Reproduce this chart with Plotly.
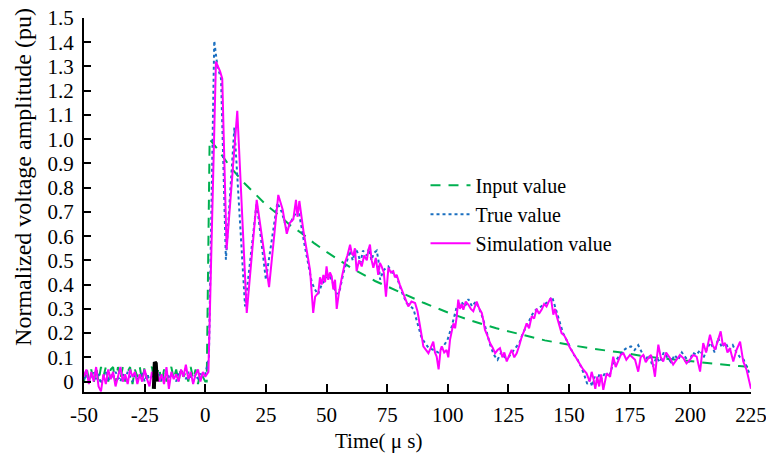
import plotly.graph_objects as go

# ---------------- data ----------------
# Input value (green dashed)
input_t = [-50, -49, -48, -47, -46, -45, -44, -43, -42, -41, -40, -39, -38, -37, -36, -35,
           -34, -33, -32, -31, -30, -29, -28, -27, -26, -25, -24, -23, -22, -21, -20, -19,
           -18, -17, -16, -15, -14, -13, -12, -11, -10, -9, -8, -7, -6, -5, -4, -3, -2, -1, 0,
           0.6, 1.8, 5, 10, 15, 20, 25, 30, 35, 40, 45, 50, 60, 70, 80, 90, 100, 110, 120,
           130, 140, 150, 160, 170, 180, 190, 200, 210, 220, 225]
input_v = [0.00, 0.06, 0.01, 0.05, -0.01, 0.06, 0.00, 0.06, 0.02, 0.06, 0.00, 0.05, 0.06, -0.01,
           0.06, 0.01, 0.06, 0.00, 0.04, 0.06, -0.01, 0.05, 0.02, 0.06, 0.00, 0.06, 0.01, 0.05,
           0.06, 0.00, 0.03, 0.06, -0.01, 0.05, 0.00, 0.04, 0.06, 0.01, 0.05, 0.00, 0.06, 0.02,
           0.04, 0.00, 0.06, 0.01, 0.05, -0.01, 0.04, 0.02, 0.00,
           0.00, 1.00, 0.96, 0.89, 0.83, 0.78, 0.73, 0.69, 0.645, 0.61, 0.57, 0.535, 0.47, 0.415,
           0.37, 0.325, 0.285, 0.25, 0.22, 0.195, 0.17, 0.152, 0.135, 0.122, 0.106, 0.094,
           0.083, 0.073, 0.064, 0.060]

# True value (blue dotted)
true_t = [-50, -49, -48, -47, -46, -45, -44, -43, -42, -41, -40, -39, -38, -37, -36, -35,
          -34, -33, -32, -31, -30, -29, -28, -27, -26, -25, -24, -23, -22, -21, -20, -19,
          -18, -17, -16, -15, -14, -13, -12, -11, -10, -9, -8, -7, -6, -5, -4, -3, -2, -1, 0,
          1.5, 3.7, 5, 6.5, 8.5, 12, 16.4, 21.2, 25, 29.7, 31.5, 33.6, 35, 36.3, 38.4, 41,
          43.9, 45.2, 46.5, 48, 49.5, 51, 52.5, 54, 55.5, 57, 58.5, 59.7, 60.8, 62, 63.1, 64,
          65, 66.6, 67.5, 68.5, 69.5, 70.7, 71.4, 72.1, 73.5, 75.5, 77, 78.9, 81, 83, 85.8,
          87.8, 89.2, 90.6, 92, 94, 96, 98.1, 99.8, 101.6, 103.7, 105.5, 107, 108.5, 110,
          111.5, 113, 114.5, 116, 117.5, 119, 120.5, 122, 123.5, 125, 126.5, 128, 129.5, 131,
          132.5, 134, 135.5, 137, 138.5, 140, 141.5, 143, 144.5, 146, 147.5, 149, 150.5, 152,
          153.5, 155, 156.5, 157.5, 158.5, 159.5, 160.5, 161.5, 162.5, 163.5, 165, 166.5, 168,
          169.5, 171, 172.5, 174, 175.5, 177, 178.5, 180, 181.5, 183, 184.5, 186, 187.5, 189,
          190.5, 192, 193.5, 195, 196.5, 198, 199.5, 201, 202.5, 204, 205.5, 207, 208.5, 210,
          211.5, 213, 214.5, 216, 217.5, 219, 220.5, 222, 223.5, 224.5]
true_v = [0.01, 0.03, 0.00, 0.02, 0.04, 0.01, 0.03, -0.01, 0.02, 0.04, 0.00, 0.03, 0.01, 0.04,
          0.02, 0.00, 0.03, 0.01, 0.04, 0.02, 0.00, 0.03, 0.01, 0.02, 0.04, 0.00, 0.03, 0.01,
          0.02, 0.04, 0.01, 0.03, 0.00, 0.02, 0.04, 0.01, 0.03, 0.02, 0.00, 0.04, 0.02, 0.03,
          0.01, 0.04, 0.02, 0.00, 0.03, 0.01, 0.04, 0.02, 0.03,
          0.10, 1.406, 1.30, 1.25, 0.503, 1.048, 0.31, 0.738, 0.42, 0.738, 0.70, 0.627, 0.65,
          0.68, 0.71, 0.56, 0.41, 0.38, 0.36, 0.40, 0.42, 0.44, 0.41, 0.36, 0.38, 0.45, 0.50,
          0.54, 0.50, 0.55, 0.524, 0.49, 0.54, 0.52, 0.55, 0.50, 0.53, 0.54, 0.50, 0.42, 0.46,
          0.475, 0.45, 0.434, 0.37, 0.324, 0.30, 0.227, 0.18, 0.159, 0.14, 0.131, 0.12, 0.145,
          0.17, 0.227, 0.31, 0.33, 0.31, 0.34, 0.31, 0.33, 0.30, 0.26, 0.20, 0.15, 0.11, 0.09,
          0.12, 0.10, 0.10, 0.12, 0.14, 0.16, 0.20, 0.23, 0.26, 0.29, 0.30, 0.31, 0.32, 0.33,
          0.35, 0.30, 0.24, 0.20, 0.17, 0.14, 0.11, 0.09, 0.06, 0.02, -0.01, 0.01, -0.02, 0.02,
          0.00, 0.03, 0.01, 0.04, 0.02, 0.07, 0.09, 0.11, 0.13, 0.14, 0.145, 0.13, 0.15, 0.12,
          0.09, 0.11, 0.06, 0.10, 0.08, 0.12, 0.10, 0.08, 0.11, 0.09, 0.12, 0.10, 0.08, 0.12,
          0.11, 0.13, 0.10, 0.14, 0.16, 0.12, 0.18, 0.14, 0.16, 0.13, 0.15, 0.12, 0.10, 0.09,
          0.05, 0.03]

# Simulation value (magenta solid)
sim_t = [-50, -49, -48, -47, -46, -45, -44, -43, -42, -41, -40, -39, -38, -37, -36, -35,
         -34, -33, -32, -31, -30, -29, -28, -27, -26, -25, -24, -23, -22, -21, -20, -19,
         -18, -17, -16, -15, -14, -13, -12, -11, -10, -9, -8, -7, -6, -5, -4, -3, -2, -1, 0,
         0.5, 1.3, 4.4, 6.1, 7, 8.8, 13.2, 17.1, 21.2, 26.3, 30.1, 31.9, 33.6, 34.9, 36.3,
         37.4, 38, 38.8, 40.5, 43.2, 44.5, 45.3, 46.6, 47.3, 48, 48.7, 49.4, 50, 50.7, 51.4,
         52.1, 52.8, 53.5, 54.2, 55, 55.5, 56.5, 57.6, 58.6, 59.7, 60.4, 61, 61.7, 62.4, 63.4,
         64.5, 65.5, 66.6, 67.2, 67.9, 68.6, 69.3, 70.3, 71.3, 72, 72.7, 73.6, 74.5, 75.5,
         76.5, 77.5, 78.2, 78.9, 80.2, 81.6, 82.6, 83.7, 85, 86.5, 87.5, 88.5, 89.2, 89.9, 91,
         92, 93, 94, 94.7, 95.4, 96.2, 97, 97.5, 98.5, 99.5, 100.2, 100.9, 101.6, 102.3, 103,
         103.7, 104.3, 105, 105.7, 106.4, 107.4, 108.5, 109.5, 110.5, 111.2, 111.9, 113, 114,
         114.7, 115.3, 116.3, 117.4, 118.5, 119.5, 120.5, 121.5, 122.5, 123.3, 124.3, 125.3,
         126.3, 127.4, 128.4, 129.5, 130.5, 131.5, 132.5, 133.5, 134.6, 135.6, 136.6, 137.6,
         138.7, 139.7, 140.7, 141.6, 142.5, 143.5, 144.2, 144.9, 145.9, 146.9, 148, 149, 150.3,
         151.7, 153, 154.5, 155.8, 157.2, 158.5, 159.3, 160, 160.8, 161.6, 162.4, 163.2, 164.1,
         165.5, 166.9, 167.6, 168.2, 169.2, 170.3, 171.3, 172.4, 173.6, 175.1, 176.2, 177.2,
         178.5, 179.5, 180.6, 181.6, 182.7, 183.8, 184.6, 185.4, 186.1, 186.8, 187.8, 188.8,
         190, 191.6, 192.9, 194.3, 195.7, 197.1, 198.4, 199.8, 201.2, 202.6, 204, 205.3, 206.5,
         208.1, 209.2, 210.2, 211.5, 212.5, 213.4, 214.3, 215.3, 216.3, 217.7, 219, 220.5,
         221.8, 223.2, 224.2, 225]
sim_v = [0.02, 0.05, -0.01, 0.04, 0.00, 0.06, -0.02, -0.04, 0.03, -0.01, 0.05, 0.01, 0.04,
         -0.02, 0.02, 0.06, 0.00, 0.03, -0.01, 0.05, 0.02, 0.04, -0.01, 0.03, 0.00, 0.05, 0.01,
         -0.02, 0.04, 0.02, 0.05, 0.00, 0.03, -0.01, 0.06, -0.03, 0.04, 0.01, 0.03, 0.00, 0.05,
         0.02, 0.07, 0.01, 0.04, -0.01, 0.03, 0.05, 0.00, 0.04, 0.02,
         0.03, 0.04, 1.32, 1.28, 1.25, 0.545, 1.117, 0.283, 0.75, 0.39, 0.77, 0.71, 0.61, 0.655,
         0.67, 0.75, 0.68, 0.745, 0.62, 0.46, 0.283, 0.35, 0.366, 0.43, 0.40, 0.44, 0.41, 0.475,
         0.42, 0.45, 0.434, 0.38, 0.42, 0.30, 0.36, 0.39, 0.44, 0.49, 0.52, 0.565, 0.53, 0.52,
         0.55, 0.455, 0.50, 0.475, 0.52, 0.50, 0.54, 0.565, 0.50, 0.47, 0.51, 0.44, 0.49, 0.475,
         0.45, 0.35, 0.47, 0.45, 0.455, 0.43, 0.44, 0.40, 0.366, 0.34, 0.31, 0.33, 0.324, 0.29,
         0.24, 0.19, 0.145, 0.13, 0.117, 0.14, 0.165, 0.12, 0.103, 0.05, 0.13, 0.145, 0.12,
         0.13, 0.10, 0.172, 0.20, 0.24, 0.22, 0.27, 0.338, 0.30, 0.32, 0.297, 0.33, 0.317, 0.30,
         0.29, 0.31, 0.33, 0.30, 0.283, 0.25, 0.214, 0.19, 0.159, 0.14, 0.117, 0.13, 0.138,
         0.10, 0.12, 0.083, 0.11, 0.131, 0.10, 0.117, 0.15, 0.186, 0.21, 0.24, 0.22, 0.27,
         0.26, 0.30, 0.28, 0.297, 0.32, 0.31, 0.33, 0.345, 0.276, 0.30, 0.27, 0.23, 0.20, 0.19,
         0.172, 0.14, 0.117, 0.10, 0.076, 0.05, 0.034, 0.00, 0.04, 0.014, -0.03, 0.02, -0.02,
         0.03, -0.034, 0.034, 0.02, 0.06, 0.103, 0.06, 0.083, 0.11, 0.117, 0.09, 0.11, 0.10,
         0.09, 0.041, 0.10, 0.11, 0.08, 0.097, 0.11, 0.07, 0.02, 0.09, 0.152, 0.10, 0.083, 0.12,
         0.097, 0.07, 0.09, 0.11, 0.097, 0.075, 0.09, 0.11, 0.103, 0.041, 0.159, 0.12, 0.193,
         0.15, 0.131, 0.17, 0.207, 0.15, 0.159, 0.12, 0.138, 0.083, 0.13, 0.165, 0.083, 0.048,
         0.01, -0.03]

# small black cursor mark seen near t = -20 us
cursor_t = [-21.2, -20.8, -20.4, -20.0]
cursor_v = [-0.03, 0.08, 0.075, 0.00]

x_ticks = [-50, -25, 0, 25, 50, 75, 100, 125, 150, 175, 200, 225]
x_labels = ["-50", "-25", "0", "25", "50", "75", "100", "125", "150", "175", "200", "225"]
y_ticks = [0, 0.1, 0.2, 0.3, 0.4, 0.5, 0.6, 0.7, 0.8, 0.9, 1.0, 1.1, 1.2, 1.3, 1.4, 1.5]
y_labels = ["0", "0.1", "0.2", "0.3", "0.4", "0.5", "0.6", "0.7", "0.8", "0.9", "1.0",
            "1.1", "1.2", "1.3", "1.4", "1.5"]

assert len(input_t) == len(input_v)
assert len(true_t) == len(true_v)
assert len(sim_t) == len(sim_v)

FONT = "Liberation Serif"

fig = go.Figure()
fig.add_trace(go.Scatter(x=input_t, y=input_v, mode="lines", name="Input value",
                         line=dict(color="#00b050", width=2, dash="10px,8px")))
fig.add_trace(go.Scatter(x=true_t, y=true_v, mode="lines", name="True value",
                         line=dict(color="#1a6fc0", width=2, dash="dot")))
fig.add_trace(go.Scatter(x=sim_t, y=sim_v, mode="lines", name="Simulation value",
                         line=dict(color="#ff00ff", width=2)))
fig.add_trace(go.Scatter(x=cursor_t, y=cursor_v, mode="lines", showlegend=False,
                         line=dict(color="black", width=4)))

fig.update_layout(
    width=766, height=455,
    margin=dict(l=84, r=15, t=18, b=63, autoexpand=False),
    paper_bgcolor="white", plot_bgcolor="white",
    font=dict(family=FONT, size=20, color="black"),
    showlegend=True,
    legend=dict(x=0.512, y=0.605, xanchor="left", yanchor="top",
                bgcolor="rgba(0,0,0,0)", font=dict(size=20, family=FONT),
                tracegroupgap=0, itemwidth=40),
    xaxis=dict(range=[-50, 225], tickvals=x_ticks, ticktext=x_labels, ticks="inside",
               ticklen=8, tickwidth=1.5, tickcolor="black", showline=True, linewidth=2,
               linecolor="black", showgrid=False, zeroline=False, automargin=False,
               ticklabeloverflow="allow",
               tickfont=dict(size=21, family=FONT), ticklabelstandoff=3),
    yaxis=dict(range=[-0.043, 1.5], tickvals=y_ticks, ticktext=y_labels, ticks="inside",
               ticklen=7, tickwidth=1.5, tickcolor="black", showline=True, linewidth=2,
               linecolor="black", showgrid=False, zeroline=False, automargin=False,
               ticklabeloverflow="allow",
               tickfont=dict(size=21, family=FONT), ticklabelstandoff=4),
    annotations=[
        dict(text="Normalized voltage amplitude (pu)", xref="paper", yref="paper",
             x=-0.0915, y=0.575, xanchor="center", yanchor="middle", textangle=-90,
             showarrow=False, font=dict(size=24, family=FONT)),
        dict(text="Time( \u03bc s)", xref="paper", yref="paper",
             x=0.442, y=-0.13, xanchor="center", yanchor="middle",
             showarrow=False, font=dict(size=21, family=FONT)),
    ],
)

fig.write_html("out.html")
